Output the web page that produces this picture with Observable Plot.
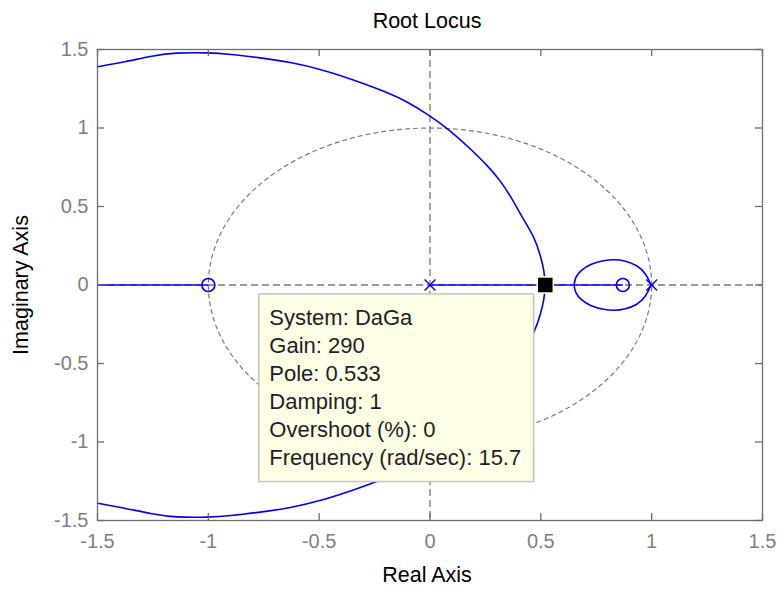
<!DOCTYPE html>
<html>
<head>
<meta charset="utf-8">
<script src="https://cdn.jsdelivr.net/npm/d3@7"></script>
<script src="https://cdn.jsdelivr.net/npm/@observablehq/plot@0.6"></script>
<style>
  html, body { margin: 0; padding: 0; background: #fff; }
  #chart svg { display: block; }
</style>
</head>
<body>
<div id="chart"></div>
<script>
// ---- data ----
const xTicks = [-1.5, -1, -0.5, 0, 0.5, 1, 1.5];
const yTicks = [-1.5, -1, -0.5, 0, 0.5, 1, 1.5];

// open-loop poles (x) and zeros (o)
const poleRe = [0, 1];
const poleIm = [0, 0];
const zeroRe = [-1, 0.87];
const zeroIm = [0, 0];

// large complex branch (upper half)
const bigUpperRe = [-1.5, -1.38, -1.25, -1.15, -1.0, -0.9, -0.78, -0.63, -0.48, -0.33, -0.18, -0.12, 0, 0.09, 0.18, 0.26, 0.32, 0.37, 0.42, 0.47, 0.50, 0.515, 0.52];
const bigUpperIm = [1.39, 1.42, 1.46, 1.48, 1.48, 1.47, 1.45, 1.42, 1.37, 1.30, 1.22, 1.18, 1.08, 0.985, 0.87, 0.76, 0.66, 0.55, 0.42, 0.31, 0.18, 0.09, 0];
// large complex branch (lower half, conjugate)
const bigLowerRe = [-1.5, -1.38, -1.25, -1.15, -1.0, -0.9, -0.78, -0.63, -0.48, -0.33, -0.18, -0.12, 0, 0.09, 0.18, 0.26, 0.32, 0.37, 0.42, 0.47, 0.50, 0.515, 0.52];
const bigLowerIm = [-1.39, -1.42, -1.46, -1.48, -1.48, -1.47, -1.45, -1.42, -1.37, -1.30, -1.22, -1.18, -1.08, -0.985, -0.87, -0.76, -0.66, -0.55, -0.42, -0.31, -0.18, -0.09, 0];

// small loop around the zero near 0.87
const loopUpperRe = [0.65, 0.655, 0.68, 0.725, 0.786, 0.83, 0.875, 0.936, 0.974, 0.997];
const loopUpperIm = [0, 0.05, 0.094, 0.136, 0.158, 0.162, 0.158, 0.126, 0.073, 0];
const loopLowerRe = [0.65, 0.655, 0.68, 0.725, 0.786, 0.83, 0.875, 0.936, 0.974, 0.997];
const loopLowerIm = [0, -0.05, -0.094, -0.136, -0.158, -0.162, -0.158, -0.126, -0.073, 0];

// real-axis segments of the locus [start, end]
const realSegStart = [-1.5, 0];
const realSegEnd = [-1, 0.87];

// selected point (data cursor)
const cursorRe = [0.52];
const cursorIm = [0];

// data-tip box corners (data units) and its text
const tipX = [-0.77, 0.47];
const tipY = [-1.255, -0.06];
const tipLines = [
  "System: DaGa",
  "Gain: 290",
  "Pole: 0.533",
  "Damping: 1",
  "Overshoot (%): 0",
  "Frequency (rad/sec): 15.7"
];

// unit circle |z| = 1 (stability boundary), sampled by angle
const circleAngles = d3.range(0, 361, 3);

// ---- build tables ----
const zip = (re, im) => re.map((r, i) => ({re: r, im: im[i]}));
const bigUpper = zip(bigUpperRe, bigUpperIm);
const bigLower = zip(bigLowerRe, bigLowerIm);
const loopUpper = zip(loopUpperRe, loopUpperIm);
const loopLower = zip(loopLowerRe, loopLowerIm);
const poles = zip(poleRe, poleIm);
const zeros = zip(zeroRe, zeroIm);
const cursor = zip(cursorRe, cursorIm);
const segs = realSegStart.map((s, i) => ({x1: s, x2: realSegEnd[i], y: 0}));
const unitCircle = circleAngles.map(a => ({re: Math.cos(a * Math.PI / 180), im: Math.sin(a * Math.PI / 180)}));

const W = 779, H = 590;
const mL = 97, mR = 17, mT = 49, mB = 70;
const PW = W - mL - mR, PH = H - mT - mB;
const TICK = 7;
const blue = "#0000ff";
const frameGray = "#6e6e6e";
const labelGray = "#808080";
const dashGray = "#7a7a7a";
const font = "Arial, 'Liberation Sans', Helvetica, sans-serif";
const lw = 1.6;

const chart = Plot.plot({
  width: W,
  height: H,
  marginLeft: mL,
  marginRight: mR,
  marginTop: mT,
  marginBottom: mB,
  style: {fontFamily: font, fontSize: "20px", background: "#fff", color: "#000"},
  x: {domain: [-1.5, 1.5]},
  y: {domain: [-1.5, 1.5]},
  marks: [
    // dashed reference lines
    Plot.line(unitCircle, {x: "re", y: "im", stroke: dashGray, strokeWidth: 1.2, strokeDasharray: "4,4"}),
    Plot.ruleX([0], {x: d => d, stroke: dashGray, strokeWidth: 1.3, strokeDasharray: "7,4"}),
    Plot.ruleY([0], {y: d => d, stroke: dashGray, strokeWidth: 1.3, strokeDasharray: "7,4"}),

    // locus
    Plot.link(segs, {x1: "x1", x2: "x2", y1: "y", y2: "y", stroke: blue, strokeWidth: lw}),
    Plot.line(bigUpper, {x: "re", y: "im", stroke: blue, strokeWidth: lw, curve: "basis"}),
    Plot.line(bigLower, {x: "re", y: "im", stroke: blue, strokeWidth: lw, curve: "basis"}),
    Plot.line(loopUpper, {x: "re", y: "im", stroke: blue, strokeWidth: lw, curve: "basis"}),
    Plot.line(loopLower, {x: "re", y: "im", stroke: blue, strokeWidth: lw, curve: "basis"}),

    // poles and zeros
    Plot.dot(zeros, {x: "re", y: "im", r: 6.5, stroke: blue, strokeWidth: lw, fill: "none"}),
    Plot.dot(poles, {x: "re", y: "im", r: 5, symbol: "times", stroke: blue, strokeWidth: 1.4}),

    // selected point
    Plot.dot(cursor, {x: "re", y: "im", r: 10, symbol: "square", fill: "#ffffe0", stroke: "none"}),
    Plot.dot(cursor, {x: "re", y: "im", r: 8.2, symbol: "square", fill: "#000", stroke: "none"}),

    // frame and inward ticks
    Plot.frame({stroke: frameGray, strokeWidth: 1.3}),
    Plot.ruleX(xTicks, {x: d => d, insetTop: PH - TICK, stroke: frameGray, strokeWidth: 1.3}),
    Plot.ruleX(xTicks, {x: d => d, insetBottom: PH - TICK, stroke: frameGray, strokeWidth: 1.3}),
    Plot.ruleY(yTicks, {y: d => d, insetRight: PW - TICK, stroke: frameGray, strokeWidth: 1.3}),
    Plot.ruleY(yTicks, {y: d => d, insetLeft: PW - TICK, stroke: frameGray, strokeWidth: 1.3}),

    // tick labels
    Plot.axisX({ticks: xTicks, tickSize: 0, tickPadding: 13, tickFormat: d => String(d), fontSize: 20, color: labelGray, label: null}),
    Plot.axisY({ticks: yTicks, tickSize: 0, tickPadding: 9, tickFormat: d => String(d), fontSize: 20, color: labelGray, label: null}),

    // title and axis titles
    Plot.text(["Root Locus"], {frameAnchor: "top", lineAnchor: "middle", textAnchor: "middle", dy: -28, dx: -3, fontSize: 21.5, fill: "#000"}),
    Plot.text(["Real Axis"], {frameAnchor: "bottom", lineAnchor: "middle", textAnchor: "middle", dy: 55, dx: -3, fontSize: 21.5, fill: "#000"}),
    Plot.text(["Imaginary Axis"], {frameAnchor: "left", lineAnchor: "middle", textAnchor: "middle", dx: -76, rotate: -90, fontSize: 21.5, fill: "#000"}),

    // data tip
    Plot.rect([{x1: tipX[0], x2: tipX[1], y1: tipY[0], y2: tipY[1]}], {x1: "x1", x2: "x2", y1: "y1", y2: "y2", fill: "#ffffe6", stroke: "#c4c4c4", strokeWidth: 1.5}),
    Plot.text([tipLines.join("\n")], {x: tipX[0], y: tipY[1], dx: 10, dy: 11, text: d => d, textAnchor: "start", lineAnchor: "top", lineHeight: 28 / 22, fontSize: 22, fill: "#1e1e28"})
  ]
});

document.getElementById("chart").appendChild(chart);
</script>
</body>
</html>
